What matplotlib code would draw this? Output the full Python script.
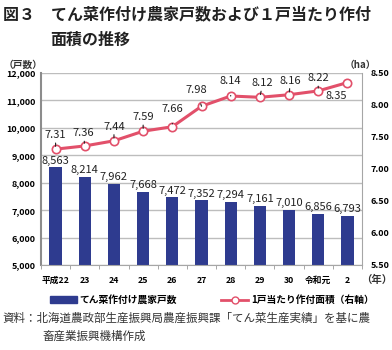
import numpy as np
import matplotlib.pyplot as plt

plt.rcParams['font.family'] = ['Noto Sans CJK JP', 'DejaVu Sans']

years = ['平成22', '23', '24', '25', '26', '27', '28', '29', '30', '令和元', '2']
farms = [8563, 8214, 7962, 7668, 7472, 7352, 7294, 7161, 7010, 6856, 6793]
area = [7.31, 7.36, 7.44, 7.59, 7.66, 7.98, 8.14, 8.12, 8.16, 8.22, 8.35]
# label offsets (points) for the line values
area_off = [(0, 10), (-1, 9), (0, 10), (0, 10), (0, 13), (-4, 12),
            (0, 11), (2, 10), (1, 10), (0, 9), (-8, -10)]

bar_color = '#2E3B8F'
line_color = '#E2506A'

fig = plt.figure(figsize=(3.92, 3.5), dpi=100)
ax = fig.add_axes([0.1046, 0.2429, 0.8189, 0.5486])
x = np.arange(len(years))

ax.bar(x, farms, width=0.42, color=bar_color, zorder=2)
for xi, v in zip(x, farms):
    ax.text(xi, v + 60, f'{v:,}', ha='center', va='bottom', fontsize=8, color='#222222', zorder=5)

ax.set_ylim(5000, 12000)
ax.set_xlim(-0.5, len(years) - 0.5)
ax.set_yticks(np.arange(5000, 12001, 1000))
ax.set_yticklabels([f'{v:,}' for v in range(5000, 12001, 1000)], fontsize=6.5, fontweight='bold')
ax.grid(axis='y', color='#BDBDBD', lw=1, zorder=0)
ax.set_axisbelow(True)
ax.set_xticks(x)
ax.set_xticklabels(years, fontsize=6.3, fontweight='bold')
ax.set_xticks(np.arange(-0.5, len(years), 1), minor=True)
ax.tick_params(axis='x', which='major', length=0, pad=8)
ax.tick_params(axis='x', which='minor', length=3, color='#999999')
ax.tick_params(axis='y', length=0, pad=4)
ax.spines['top'].set_visible(False)
ax.spines['left'].set_color('#8C8C8C')
ax.spines['left'].set_linewidth(1.5)
ax.spines['bottom'].set_color('#A6A6A6')
ax.spines['right'].set_visible(False)

ax2 = ax.twinx()
ax2.set_ylim(5.5, 8.5)
ax2.set_yticks(np.arange(5.5, 8.51, 0.5))
ax2.set_yticklabels([f'{v:.2f}' for v in np.arange(5.5, 8.51, 0.5)], fontsize=6.5, fontweight='bold')
ax2.tick_params(axis='y', length=0, pad=6)
for s in ['top', 'left', 'bottom']:
    ax2.spines[s].set_visible(False)
ax2.spines['right'].set_color('#A6A6A6')
ax2.plot(x, area, color=line_color, lw=2.2, marker='o', markersize=6,
         markerfacecolor='white', markeredgecolor=line_color, markeredgewidth=1.2, zorder=3)
for xi, v, (dx, dy) in zip(x, area, area_off):
    ax2.annotate(f'{v:.2f}', (xi, v), xytext=(dx, dy), textcoords='offset points',
                 ha='center', va='center', fontsize=8, color='#222222',
                 arrowprops=dict(arrowstyle='-', color='#222222', lw=0.8, shrinkA=5, shrinkB=2) if dy > 0 else None)

fig.text(0.008, 0.815, '（戸数）', fontsize=7, fontweight='bold', ha='left', va='center', color='#333333')
fig.text(0.92, 0.815, '（ha）', fontsize=7, fontweight='bold', ha='center', va='center', color='#333333')
fig.text(0.96, 0.2, '（年）', fontsize=7.5, fontweight='bold', ha='center', va='center', color='#333333')

fig.text(0.008, 0.96, '図３　てん菜作付け農家戸数および１戸当たり作付', fontsize=11.5,
         fontweight='bold', ha='left', va='center', color='#222222')
fig.text(0.128, 0.885, '面積の推移', fontsize=11.5, fontweight='bold', ha='left', va='center', color='#222222')

handles = [plt.Rectangle((0, 0), 1, 1, color=bar_color),
           plt.Line2D([], [], color=line_color, lw=2, marker='o', markersize=5,
                      markerfacecolor='white', markeredgecolor=line_color)]
fig.legend(handles, ['てん菜作付け農家戸数', '1戸当たり作付面積（右軸）'], ncol=2,
           loc='center', bbox_to_anchor=(0.54, 0.143), frameon=False,
           prop={'size': 7, 'weight': 'bold'}, handlelength=2.8, columnspacing=4.5, handletextpad=0.3)

fig.text(0.005, 0.09, '資料：北海道農政部生産振興局農産振興課「てん菜生産実績」を基に農',
         fontsize=8.3, ha='left', va='center', color='#333333')
fig.text(0.108, 0.04, '畜産業振興機構作成', fontsize=8.3, ha='left', va='center', color='#333333')

fig.savefig('out.png', dpi=100)
